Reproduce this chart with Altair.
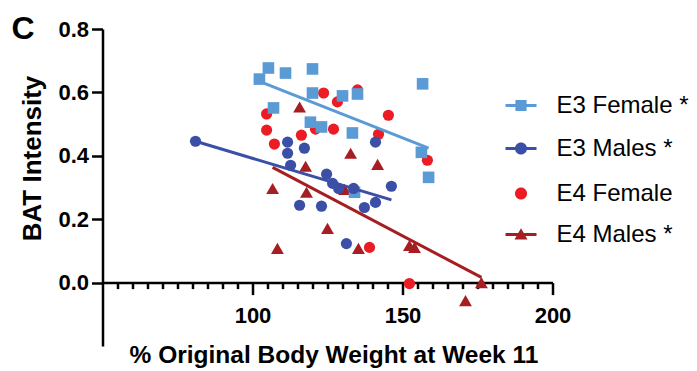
import altair as alt
import pandas as pd

FONT = "Liberation Sans"

groups = ["E3 Female *", "E3 Males *", "E4 Female", "E4 Males *"]
colors = ["#5B9BD5", "#3A4FA5", "#EC1C24", "#A71E22"]
panel_label = ["C"]

e3f_x = [102.3, 105.3, 111.0, 120.0, 120.0, 130.0, 135.0, 107.0, 119.3, 123.0, 133.3, 156.7, 156.3, 158.7, 134.0]
e3f_y = [0.642, 0.677, 0.661, 0.674, 0.598, 0.589, 0.595, 0.551, 0.506, 0.491, 0.472, 0.627, 0.411, 0.332, 0.285]

e3m_x = [81.0, 111.7, 111.7, 112.7, 117.3, 124.7, 126.7, 128.7, 133.7, 115.7, 123.0, 137.3, 141.0, 146.3, 141.0, 131.3]
e3m_y = [0.446, 0.443, 0.408, 0.370, 0.424, 0.342, 0.313, 0.297, 0.297, 0.244, 0.241, 0.237, 0.253, 0.304, 0.443, 0.123]

e4f_x = [104.7, 104.7, 107.3, 116.3, 121.0, 127.0, 123.7, 128.3, 135.0, 145.3, 142.0, 158.3, 139.0, 152.3]
e4f_y = [0.532, 0.481, 0.437, 0.465, 0.484, 0.484, 0.598, 0.570, 0.608, 0.528, 0.468, 0.386, 0.111, -0.003]

e4m_x = [106.7, 108.3, 115.7, 117.7, 118.0, 125.0, 130.7, 132.7, 141.7, 135.3, 152.3, 154.0, 176.3, 171.0]
e4m_y = [0.297, 0.108, 0.554, 0.367, 0.285, 0.171, 0.294, 0.408, 0.373, 0.108, 0.117, 0.111, 0.000, -0.057]

x_major = [100, 150, 200]
x_minor = [v for v in range(55, 200, 5) if v % 50 != 0]
y_ticks = [0.0, 0.2, 0.4, 0.6, 0.8]

def frame(xs, ys, g):
    return pd.DataFrame({"x": xs, "y": ys, "group": g})

dfs = {
    groups[0]: frame(e3f_x, e3f_y, groups[0]),
    groups[1]: frame(e3m_x, e3m_y, groups[1]),
    groups[2]: frame(e4f_x, e4f_y, groups[2]),
    groups[3]: frame(e4m_x, e4m_y, groups[3]),
}

# marker shapes in the plot and legend symbols (line + marker)
plot_shapes = ["square", "circle", "circle", "triangle-up"]
line_path = "M-1,-0.09H1V0.09H-1Z "
sq = "M-0.36,-0.36H0.36V0.36H-0.36Z"
circ = "M0.39,0A0.39,0.39 0 1,1 -0.39,0A0.39,0.39 0 1,1 0.39,0Z"
tri = "M0,-0.4L0.42,0.33L-0.42,0.33Z"
legend_paths = [line_path + sq, line_path + circ, circ, line_path + tri]
sizes = [135, 125, 125, 165]
legend_y = [61, 104, 149, 190]

XSCALE = alt.Scale(domain=[50, 200], nice=False, zero=False)
YSCALE = alt.Scale(domain=[-0.2, 0.8], nice=False, zero=False)
OFFSET = -63.4

major_axis = alt.Axis(
    orient="bottom", values=x_major, offset=OFFSET, grid=False,
    tickSize=12, tickWidth=2.5, tickColor="black",
    domainColor="black", domainWidth=2.5,
    labelFont=FONT, labelFontSize=22, labelFontWeight="bold", labelColor="black",
    labelPadding=11, labelFlush=False,
    title="% Original Body Weight at Week 11", titleFont=FONT, titleFontSize=24.5,
    titleFontWeight="bold", titleColor="black", titleX=231, titleY=80,
    titleBaseline="alphabetic", titleAlign="center",
)
minor_axis = alt.Axis(
    orient="bottom", values=x_minor, offset=OFFSET, grid=False,
    tickSize=6, tickWidth=2.5, tickColor="black", domain=False,
    labels=False, title=None,
)
y_axis = alt.Axis(
    values=y_ticks, format=".1f", grid=False,
    tickSize=11, tickWidth=2.5, tickColor="black",
    domainColor="black", domainWidth=2.5,
    labelFont=FONT, labelFontSize=22, labelFontWeight="bold", labelColor="black",
    labelPadding=3, labelFlush=False,
    title="BAT Intensity", titleFont=FONT, titleFontSize=26, titleFontWeight="bold",
    titleColor="black", titleX=-62.5, titleY=129, titleBaseline="alphabetic",
    titleAlign="center", titleAngle=-90,
)

def point_layer(i, xaxis, yaxis):
    g = groups[i]
    return alt.Chart(dfs[g]).mark_point(
        shape=plot_shapes[i], filled=True, size=sizes[i], opacity=1, strokeWidth=0
    ).encode(
        x=alt.X("x:Q", scale=XSCALE, axis=xaxis),
        y=alt.Y("y:Q", scale=YSCALE, axis=yaxis),
        color=alt.Color(
            "group:N",
            scale=alt.Scale(domain=[g], range=[colors[i]]),
            legend=alt.Legend(
                title=None, orient="none", legendX=403, legendY=legend_y[i],
                symbolType=legend_paths[i], symbolSize=961, symbolStrokeWidth=0,
                symbolOpacity=1, labelFont=FONT, labelFontSize=24, labelColor="black",
                labelOffset=20, padding=0,
            ),
        ),
    )

def line_layer(i):
    g = groups[i]
    return alt.Chart(dfs[g]).transform_regression("x", "y").mark_line(
        color=colors[i], strokeWidth=3
    ).encode(
        x=alt.X("x:Q", scale=XSCALE, axis=None),
        y=alt.Y("y:Q", scale=YSCALE, axis=None),
    )

label_layer = alt.Chart(pd.DataFrame({"label": panel_label})).mark_text(
    align="left", baseline="alphabetic", font=FONT, fontSize=32,
    fontWeight="bold", color="black",
).encode(text="label:N", x=alt.value(-91), y=alt.value(10))

layers = [
    point_layer(2, minor_axis, None),   # E4 Female (bottom)
    point_layer(3, None, None),         # E4 Males
    point_layer(0, None, None),         # E3 Female
    point_layer(1, major_axis, y_axis), # E3 Males (top)
    line_layer(0),
    line_layer(1),
    line_layer(3),
    label_layer,
]

chart = alt.layer(*layers).resolve_scale(
    color="independent"
).resolve_axis(
    x="independent", y="independent"
).properties(
    width=450, height=317,
    autosize=alt.AutoSizeParams(type="none"),
    padding={"left": 102.5, "top": 29, "right": 144.5, "bottom": 25},
).configure_view(stroke=None)

chart.save("out.html", embed_options={"renderer": "svg", "actions": False})
